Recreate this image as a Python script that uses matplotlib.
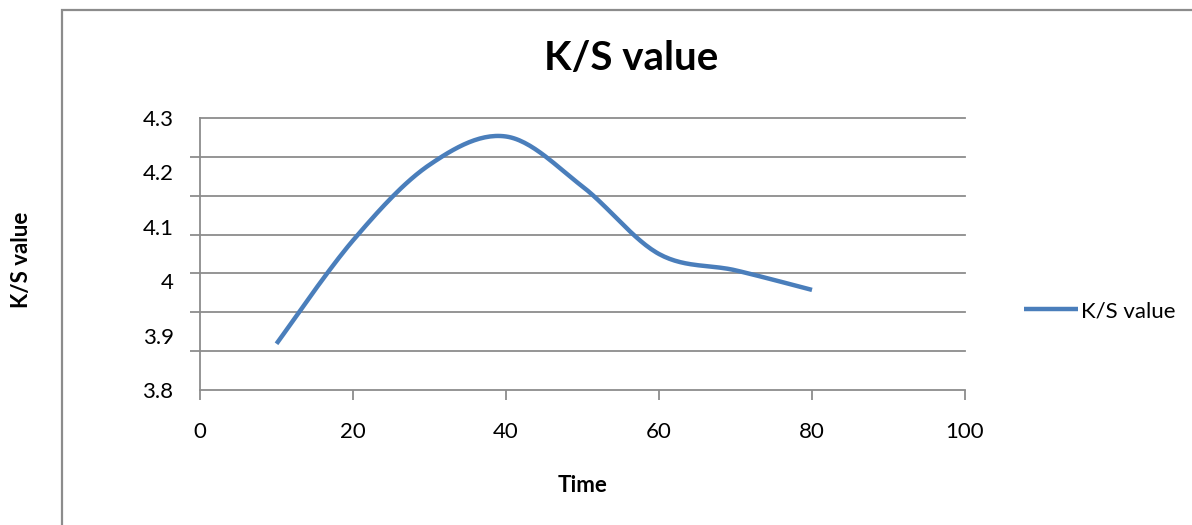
import numpy as np
import matplotlib
matplotlib.use("Agg")
import matplotlib.pyplot as plt
from matplotlib.patches import Rectangle

# Data
time = [10, 20, 30, 40, 50, 60, 70, 80]
ks_value = [3.885, 4.075, 4.214, 4.266, 4.174, 4.050, 4.020, 3.984]
series_name = "K/S value"
title = "K/S value"
xlabel = "Time"
ylabel = "K/S value"
xticks = [0, 20, 40, 60, 80, 100]
yticklabels = [3.8, 3.9, 4.0, 4.1, 4.2, 4.3]

plt.rcParams['font.family'] = ['Lato', 'DejaVu Sans']


def smooth(xs, ys, n=30):
    # Catmull-Rom style smoothing (like a spreadsheet "smoothed line")
    xs = np.asarray(xs, float)
    ys = np.asarray(ys, float)
    px = np.concatenate([[xs[0]], xs, [xs[-1]]])
    py = np.concatenate([[ys[0]], ys, [ys[-1]]])
    ox, oy = [], []
    for i in range(1, len(px) - 2):
        p0, p1, p2, p3 = (np.array([px[j], py[j]]) for j in (i - 1, i, i + 1, i + 2))
        c1 = p1 + (p2 - p0) / 6.0
        c2 = p2 - (p3 - p1) / 6.0
        t = np.linspace(0, 1, n)[:, None]
        b = ((1 - t) ** 3) * p1 + 3 * ((1 - t) ** 2) * t * c1 + 3 * (1 - t) * t ** 2 * c2 + t ** 3 * p2
        ox.extend(b[:, 0]); oy.extend(b[:, 1])
    return np.array(ox), np.array(oy)


W, H = 1192, 525
fig = plt.figure(figsize=(W / 100, H / 100), dpi=100)
fig.patch.set_facecolor('white')

# outer chart frame (partially outside image)
fig.patches.append(Rectangle((62 / W, -0.2), 2.0, (H - 10) / H + 0.2,
                             transform=fig.transFigure, fill=False,
                             edgecolor='#8c8c8c', linewidth=1.6))

ax = fig.add_axes([200 / W, (H - 390) / H, 765 / W, 272 / H])

# Gridlines (7 equal intervals)
grid_pos = np.linspace(3.8, 4.3, 8)
for g in grid_pos[1:]:
    ax.axhline(g, color='#8c8c8c', linewidth=1.3, zorder=1, clip_on=False)

sx, sy = smooth(time, ks_value)
ax.plot(sx, sy, color='#4A7EBB', linewidth=3.2, solid_capstyle='butt',
        label=series_name, zorder=3)

ax.set_xlim(0, 100)
ax.set_ylim(3.8, 4.3)
ax.set_xticks(xticks)
ax.set_xticklabels([str(v) for v in xticks])

ax.set_yticks(grid_pos, minor=True)
ax.set_yticks(yticklabels)
ax.set_yticklabels([f"{v:g}" for v in yticklabels])
ax.tick_params(axis='y', which='major', length=0, pad=19, labelsize=16)
ax.tick_params(axis='y', which='minor', length=7, color='#8c8c8c', width=1.3, direction='out')
ax.tick_params(axis='x', which='major', length=7, color='#8c8c8c', width=1.3,
               direction='out', pad=16, labelsize=16)

for s in ['top', 'right']:
    ax.spines[s].set_visible(False)
for s in ['left', 'bottom']:
    ax.spines[s].set_color('#8c8c8c')
    ax.spines[s].set_linewidth(1.3)

fig.text(631 / W, 1 - 58 / H, title, ha='center', va='center',
         fontsize=29, fontweight='bold')
fig.text(583 / W, 1 - 486 / H, xlabel, ha='center', va='center',
         fontsize=16, fontweight='bold')
fig.text(22 / W, 1 - 260 / H, ylabel, ha='center', va='center',
         fontsize=16, fontweight='bold', rotation=90)

leg = ax.legend(loc='center left', bbox_to_anchor=(1.066, 0.29), frameon=False,
                fontsize=16, handlelength=2.4, handletextpad=0.15, borderaxespad=0)

fig.savefig('out.png', dpi=100)
